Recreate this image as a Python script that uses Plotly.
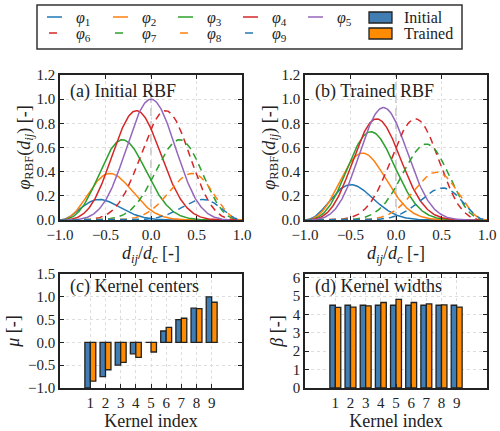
import numpy as np
import plotly.graph_objects as go

# kernel parameters
kernel_idx = [1, 2, 3, 4, 5, 6, 7, 8, 9]
mu_initial = [-1.0, -0.75, -0.5, -0.25, 0.0, 0.25, 0.5, 0.75, 1.0]
mu_trained = [-0.85, -0.60, -0.44, -0.33, -0.21, 0.33, 0.53, 0.74, 0.88]
beta_initial = [4.5, 4.5, 4.5, 4.5, 4.5, 4.5, 4.5, 4.5, 4.5]
beta_trained = [4.38, 4.40, 4.47, 4.65, 4.82, 4.65, 4.57, 4.52, 4.40]

curve_colors = ['#1f77b4', '#ff7f0e', '#2ca02c', '#d62728', '#9467bd',
                '#d62728', '#2ca02c', '#ff7f0e', '#1f77b4']
curve_dash = ['solid'] * 5 + ['7px,5px'] * 4
bar_colors = {'Initial': '#3f7db3', 'Trained': '#ff8c00'}

FONT = 'Liberation Serif, DejaVu Serif, serif'
PHI = 'φ'
W, H = 500, 431
d = np.linspace(-1.0, 1.0, 241)


def rbf(mu, beta):
    # gaussian kernel times cosine cutoff on [-1, 1]
    return np.exp(-beta * (d - mu) ** 2) * 0.5 * (np.cos(np.pi * d) + 1.0)


def px(x):
    return x / W


def py(y):
    return 1 - y / H


fig = go.Figure()

# ── top panels: kernel curves ──
for axis, mus, betas in (('x', mu_initial, beta_initial), ('x2', mu_trained, beta_trained)):
    yaxis = 'y' if axis == 'x' else 'y2'
    for k in range(9):
        fig.add_trace(go.Scatter(
            x=d, y=rbf(mus[k], betas[k]), mode='lines',
            line=dict(color=curve_colors[k], width=1.5, dash=curve_dash[k]),
            xaxis=axis, yaxis=yaxis, showlegend=False,
        ))
    fig.add_shape(type='line', xref=axis, yref=yaxis, x0=0, x1=0, y0=0, y1=1.2,
                  line=dict(color='#d0d0d0', width=2, dash='8px,5px'), layer='below')

# ── bottom panels: kernel parameters ──
for name, vals, axis, yaxis, off in (
        ('Initial', mu_initial, 'x3', 'y3', -0.36), ('Trained', mu_trained, 'x3', 'y3', 0.0),
        ('Initial', beta_initial, 'x4', 'y4', -0.36), ('Trained', beta_trained, 'x4', 'y4', 0.0)):
    fig.add_trace(go.Bar(
        x=kernel_idx, y=vals, width=0.36, offset=off,
        marker=dict(color=bar_colors[name], line=dict(color='#222', width=1.3)),
        xaxis=axis, yaxis=yaxis, showlegend=False,
    ))

axis_common = dict(showline=True, mirror='ticks', linecolor='#222', linewidth=1.5,
                   ticks='inside', ticklen=4, tickcolor='#222', zeroline=False,
                   showgrid=True, gridcolor='#dddddd', griddash='dot', gridwidth=1,
                   automargin=False,
                   tickfont=dict(family=FONT, size=15, color='#222'))
title_font = dict(family=FONT, size=18, color='#222')

xa_top = dict(range=[-1, 1], dtick=0.5, tickformat='.1f',
              title=dict(text='<i>d<sub>ij</sub></i>/<i>d<sub>c</sub></i> [-]', font=title_font, standoff=4))
ya_top = dict(range=[0, 1.2], dtick=0.2, tickformat='.1f',
              title=dict(text=f'<i>{PHI}</i><sub>RBF</sub>(<i>d<sub>ij</sub></i>) [-]', font=title_font, standoff=0))
xa_bot = dict(range=[-1, 11], tickvals=kernel_idx,
              title=dict(text='Kernel index', font=title_font, standoff=2))

top_y = [py(220), py(75)]
bot_y = [py(388), py(274)]
left_x = [px(60), px(242)]
right_x = [px(305), px(487)]

fig.update_layout(
    width=W, height=H,
    margin=dict(l=0, r=0, t=0, b=0),
    paper_bgcolor='white', plot_bgcolor='white',
    showlegend=False,
    barmode='overlay',
    font=dict(family=FONT, color='#222'),
    xaxis=dict(domain=left_x, anchor='y', **xa_top, **axis_common),
    yaxis=dict(domain=top_y, anchor='x', **ya_top, **axis_common),
    xaxis2=dict(domain=right_x, anchor='y2', **xa_top, **axis_common),
    yaxis2=dict(domain=top_y, anchor='x2', **ya_top, **axis_common),
    xaxis3=dict(domain=left_x, anchor='y3', **xa_bot, **axis_common),
    yaxis3=dict(domain=bot_y, anchor='x3', range=[-1, 1.5], dtick=0.5, tickformat='.1f',
                title=dict(text='<i>μ</i> [-]', font=title_font, standoff=4), **axis_common),
    xaxis4=dict(domain=right_x, anchor='y4', **xa_bot, **axis_common),
    yaxis4=dict(domain=bot_y, anchor='x4', range=[0, 6.2], dtick=1,
                title=dict(text='<i>β</i> [-]', font=title_font, standoff=4), **axis_common),
)

# panel labels
for label, x0, y0 in (('(a) Initial RBF', 68, 92), ('(b) Trained RBF', 313, 92),
                      ('(c) Kernel centers', 68, 286), ('(d) Kernel widths', 313, 286)):
    fig.add_annotation(text=label, x=px(x0), y=py(y0), xref='paper', yref='paper',
                       xanchor='left', yanchor='middle', showarrow=False,
                       font=dict(family=FONT, size=18, color='#222'))

# ── legend box (drawn by hand to match the 6-column layout) ──
fig.add_shape(type='rect', xref='paper', yref='paper', x0=px(37), x1=px(462), y0=py(49), y1=py(5),
              line=dict(color='#333', width=1.5), fillcolor='white')
col_x = [47, 113, 178, 243, 308]
for k in range(9):
    col, row = (k, 0) if k < 5 else (k - 5, 1)
    yy = 17 if row == 0 else 33
    x0 = col_x[col]
    seg = (x0, x0 + 15) if row == 0 else (x0 + 2, x0 + 10)
    fig.add_shape(type='line', xref='paper', yref='paper', x0=px(seg[0]), x1=px(seg[1]),
                  y0=py(yy), y1=py(yy), line=dict(color=curve_colors[k], width=1.5))
    fig.add_annotation(text=f'<i>{PHI}</i><sub>{k + 1}</sub>', x=px(x0 + 27), y=py(yy + 2),
                       xref='paper', yref='paper', xanchor='left', yanchor='middle',
                       showarrow=False, font=dict(family=FONT, size=16, color='#222'))
for name, y0, y1 in (('Initial', 12, 23), ('Trained', 28, 39)):
    fig.add_shape(type='rect', xref='paper', yref='paper', x0=px(369), x1=px(392),
                  y0=py(y1), y1=py(y0), fillcolor=bar_colors[name], line=dict(color='#222', width=1.3))
    fig.add_annotation(text=name, x=px(402), y=py((y0 + y1) / 2), xref='paper', yref='paper',
                       xanchor='left', yanchor='middle', showarrow=False,
                       font=dict(family=FONT, size=16, color='#222'))

# drop the default 8px page margin so the figure sits at the window's corner
fig.write_html('out.html', config={'displayModeBar': False},
               post_script='document.body.style.margin = "0px";')
